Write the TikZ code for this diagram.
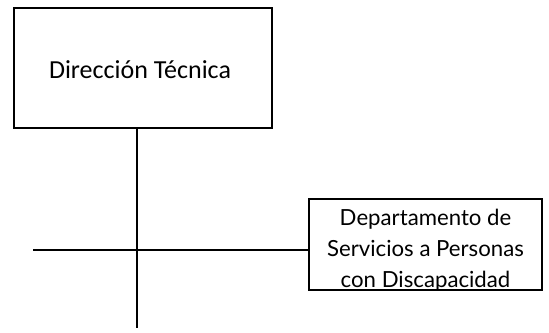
\documentclass[tikz,border=0pt]{standalone}
\usepackage{fontspec}
\setmainfont{Carlito}
\newfontfamily\deptfont{Lato}
\usepackage{tikz}

\tikzset{
	unitbox/.style={draw, line width=0.7pt, inner sep=0pt},
	deptlabel/.style={align=center, font=\deptfont\fontsize{11.1}{15.5}\selectfont, inner sep=0pt},
	orgline/.style={line width=0.7pt}
}

\begin{document}
\begin{tikzpicture}[x=0.5pt, y=-0.5pt]
	\useasboundingbox (0, 0) rectangle (549, 332);

	% direccion
	\node[unitbox, minimum width=129pt, minimum height=60pt] (dir) at (143, 68) {};
	\node[font=\fontsize{13}{15}\selectfont] (dirtxt) at (140, 70) {Dirección Técnica};

	% departamento
	\node[unitbox, minimum width=116.5pt, minimum height=45.5pt] (dept) at (425.5, 244.5) {};
	\node[deptlabel, anchor=base] (depttxt) at (425.5, 287) {Departamento de\\Servicios a Personas\\con Discapacidad};

	% ends of lines
	\coordinate (bottom) at (137, 328);
	\coordinate (left) at (33, 250);

	% vertical line
	\draw[orgline] (dir.south -| bottom) -- (bottom);

	% horizontal line
	\draw[orgline] (left) -- (left -| dept.west);
\end{tikzpicture}
\end{document}
